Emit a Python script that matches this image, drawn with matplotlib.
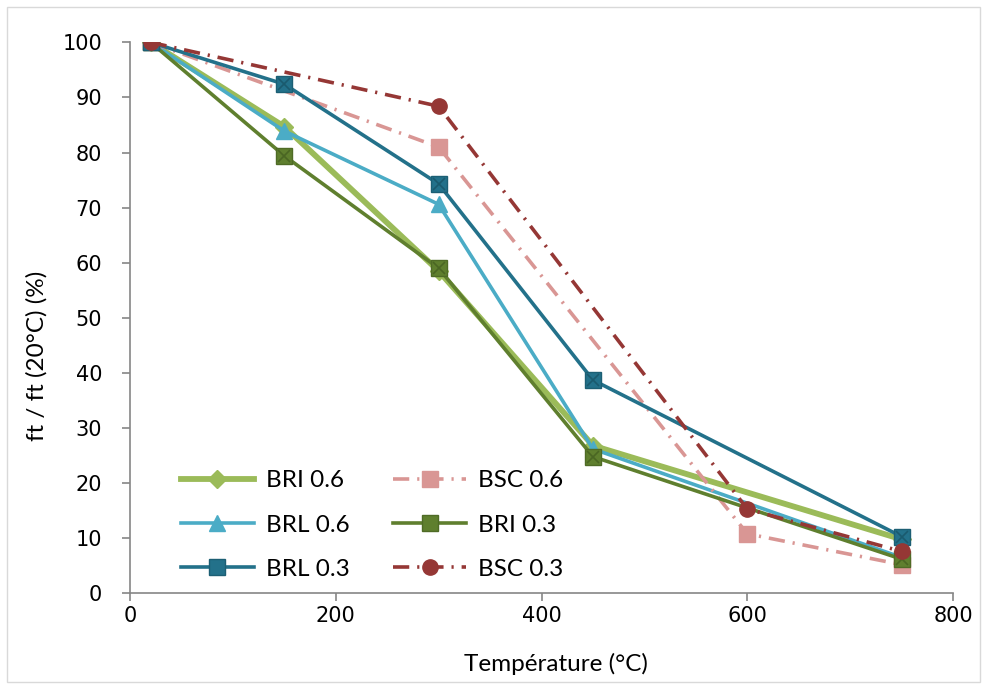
import matplotlib
matplotlib.use("Agg")
import matplotlib.pyplot as plt
from matplotlib.patches import Rectangle

# temperatures (°C)
temp_br = [20, 150, 300, 450, 750]
temp_bsc = [20, 300, 600, 750]

# ft / ft(20°C) in %
bri_06 = [100, 84.7, 58.5, 26.8, 9.8]
brl_06 = [100, 83.9, 70.6, 26.2, 6.5]
bri_03 = [100, 79.4, 59.0, 24.8, 6.2]
brl_03 = [100, 92.4, 74.3, 38.7, 10.3]
bsc_06 = [100, 81.0, 10.8, 5.2]
bsc_03 = [100, 88.4, 15.3, 7.6]

xticks = [0, 200, 400, 600, 800]
yticks = [0, 10, 20, 30, 40, 50, 60, 70, 80, 90, 100]

label_font = "Lato"
dashdot = (0, (4.5, 2.2, 0.6, 2.2))

fig = plt.figure(figsize=(9.87, 6.87), dpi=100)
ax = fig.add_axes([0.1317, 0.1364, 0.8339, 0.802])

# outer chart border (Excel style)
fig.patches.append(Rectangle((0.007, 0.008), 0.986, 0.982, transform=fig.transFigure,
                             fill=False, edgecolor="#d9d9d9", linewidth=1.0))

l1, = ax.plot(temp_br, bri_06, color="#9bbb59", lw=4.2, marker="D", ms=9,
              mfc="#9bbb59", mec="#9bbb59", label="BRI 0.6", zorder=3)
l2, = ax.plot(temp_br, brl_06, color="#4bacc6", lw=2.6, marker="^", ms=11,
              mfc="#4bacc6", mec="#4bacc6", label="BRL 0.6", zorder=4)
l4, = ax.plot(temp_bsc, bsc_06, color="#d99694", lw=2.6, ls=dashdot, marker="s", ms=11,
              mfc="#d99694", mec="#d99694", label="BSC 0.6", zorder=5)
l5, = ax.plot(temp_br, bri_03, color="#5f7f2e", lw=2.6, marker="s", ms=11,
              mfc="#5f7f2e", mec="#4f6b26", label="BRI 0.3", zorder=6)
l3, = ax.plot(temp_br, brl_03, color="#23718a", lw=2.6, marker="s", ms=11,
              mfc="#23718a", mec="#1c5f74", label="BRL 0.3", zorder=7)
l6, = ax.plot(temp_bsc, bsc_03, color="#953735", lw=2.6, ls=dashdot, marker="o", ms=11,
              mfc="#953735", mec="#953735", label="BSC 0.3", zorder=8)

# faint X on the square markers, like Excel
ax.plot(temp_br, bri_03, ls="none", marker="x", ms=8, mew=1.2, color="#4a6623", zorder=6.5)
ax.plot(temp_br, brl_03, ls="none", marker="x", ms=8, mew=1.2, color="#1a5a6e", zorder=7.5)

ax.set_xlim(0, 800)
ax.set_ylim(0, 100)
ax.set_xticks(xticks)
ax.set_yticks(yticks)
for lab in ax.get_xticklabels() + ax.get_yticklabels():
    lab.set_fontfamily("DejaVu Sans")
    lab.set_fontsize(15)
ax.tick_params(axis="both", direction="out", length=6, width=1.2, color="#868686")
ax.tick_params(axis="x", pad=3)
ax.tick_params(axis="y", pad=14)

for s in ["top", "right"]:
    ax.spines[s].set_visible(False)
for s in ["left", "bottom"]:
    ax.spines[s].set_color("#868686")
    ax.spines[s].set_linewidth(1.2)

ax.set_xlabel("Température (°C)", fontfamily=label_font, fontsize=17.5)
ax.xaxis.set_label_coords(0.518, -0.108)
ax.set_ylabel("ft / ft (20°C) (%)", fontfamily=label_font, fontsize=17.5)
ax.yaxis.set_label_coords(-0.1, 0.43)

leg = ax.legend(handles=[l1, l2, l3, l4, l5, l6], ncol=2, frameon=False,
                loc="lower left", bbox_to_anchor=(0.035, -0.015),
                prop={"family": label_font, "size": 17.5},
                handlelength=3.0, handletextpad=0.5, columnspacing=1.8,
                labelspacing=0.95, numpoints=1)

fig.savefig("out.png", dpi=100)
